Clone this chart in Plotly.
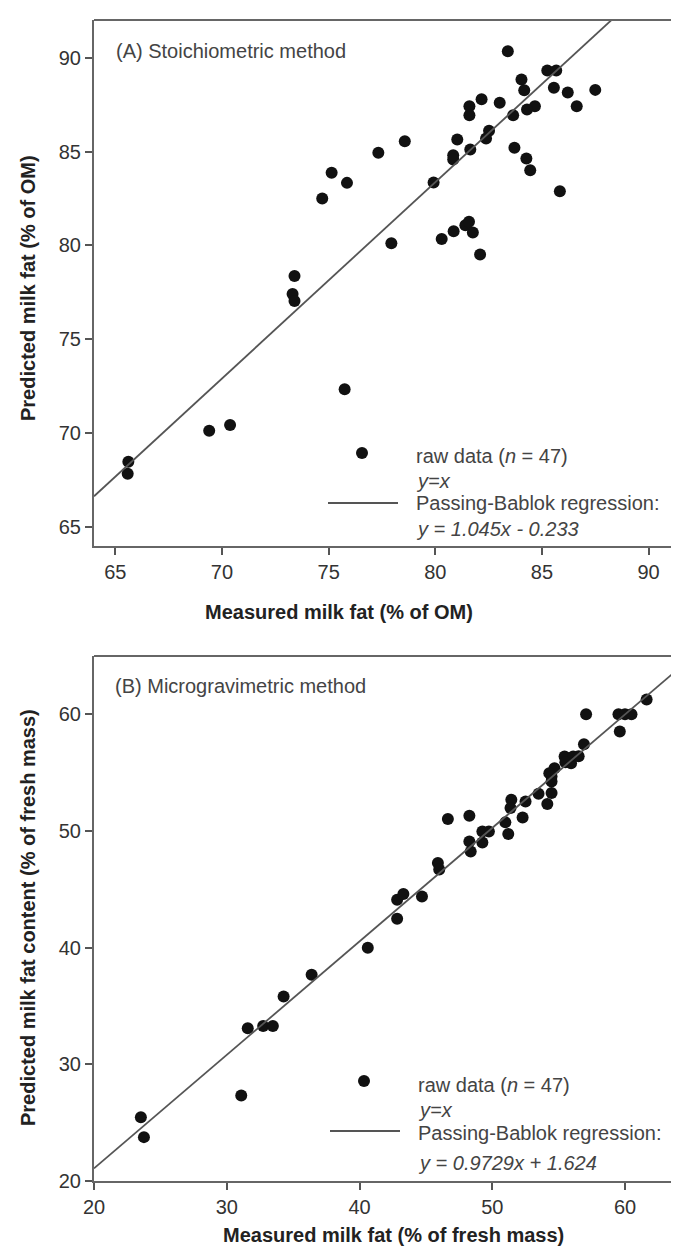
import plotly.graph_objects as go

# ---------------- data ----------------
a_measured = [83.4, 84.04, 84.17, 85.25, 85.67, 85.56, 86.21, 87.5, 86.63, 84.67,
              84.3, 83.65, 83.02, 82.17, 81.6, 81.6, 82.52, 82.38, 81.03, 81.64,
              80.84, 80.84, 83.71, 84.27, 84.45, 85.84, 79.92, 78.57, 77.33, 75.14,
              75.86, 74.7, 77.94, 80.3, 80.86, 81.41, 81.58, 81.76, 82.1, 73.4,
              73.31, 73.4, 75.75, 69.4, 70.38, 65.61, 65.58]
a_predicted = [90.34, 88.83, 88.26, 89.31, 89.31, 88.39, 88.14, 88.28, 87.41, 87.41,
               87.23, 86.93, 87.59, 87.78, 87.41, 86.93, 86.1, 85.69, 85.64, 85.11,
               84.8, 84.57, 85.2, 84.63, 84.0, 82.89, 83.35, 85.55, 84.93, 83.87,
               83.33, 82.5, 80.11, 80.34, 80.76, 81.08, 81.26, 80.69, 79.52, 78.37,
               77.41, 77.04, 72.34, 70.14, 70.44, 68.49, 67.84]

b_measured = [61.62, 59.5, 59.99, 60.48, 59.6, 57.06, 56.9, 55.44, 56.09, 55.93,
              55.5, 56.5, 54.68, 54.29, 54.46, 54.46, 54.46, 54.14, 53.48, 52.5,
              52.28, 51.43, 51.37, 50.98, 51.2, 49.74, 49.25, 49.25, 48.27, 48.27,
              48.37, 46.65, 45.9, 46.0, 42.83, 43.3, 44.7, 42.83, 40.62, 36.39,
              34.28, 31.58, 32.74, 33.47, 31.09, 23.53, 23.76]
b_predicted = [61.28, 60.0, 60.0, 60.0, 58.52, 60.0, 57.44, 56.38, 56.38, 55.8,
               55.9, 56.4, 55.38, 54.96, 54.67, 54.25, 53.25, 52.31, 53.19, 52.52,
               51.15, 52.67, 51.97, 50.74, 49.74, 49.95, 49.95, 49.01, 51.3, 49.1,
               48.24, 51.03, 47.26, 46.7, 44.1, 44.6, 44.39, 42.47, 40.0, 37.67,
               35.82, 33.09, 33.29, 33.29, 27.32, 25.47, 23.76]

a_slope, a_intercept = 1.045, -0.233
b_slope, b_intercept = 0.9729, 1.624

a_ticks = [65, 70, 75, 80, 85, 90]
b_ticks = [20, 30, 40, 50, 60]

a_range_x = [64, 91.8]
a_range_y = [64, 92]
b_range_x = [20, 64.66]
b_range_y = [20, 65]

# ---------------- layout helpers ----------------
W, H = 679, 1249
L, R, T, B = 86, 0, 12, 76
PW, PH = W - L - R, H - T - B


def px(x):
    return (x - L) / PW


def py(y):
    return (H - B - y) / PH


FONT = "Liberation Sans, Arial, sans-serif"
MARK = "#111111"
LINE = "#555555"
AXIS = "#666666"

fig = go.Figure()

# Panel A
fig.add_trace(go.Scatter(x=a_measured, y=a_predicted, mode="markers",
                         marker=dict(size=12, color=MARK), xaxis="x", yaxis="y",
                         showlegend=False, hoverinfo="x+y"))
fig.add_trace(go.Scatter(x=[a_range_x[0], a_range_x[1] + 1],
                         y=[a_slope * v + a_intercept for v in [a_range_x[0], a_range_x[1] + 1]],
                         mode="lines", line=dict(color=LINE, width=1.8),
                         xaxis="x", yaxis="y", showlegend=False))
# Panel B
fig.add_trace(go.Scatter(x=b_measured, y=b_predicted, mode="markers",
                         marker=dict(size=12, color=MARK), xaxis="x2", yaxis="y2",
                         showlegend=False, hoverinfo="x+y"))
fig.add_trace(go.Scatter(x=[b_range_x[0], b_range_x[1] + 1],
                         y=[b_slope * v + b_intercept for v in [b_range_x[0], b_range_x[1] + 1]],
                         mode="lines", line=dict(color=LINE, width=1.8),
                         xaxis="x2", yaxis="y2", showlegend=False))

a_top, a_bot = py(12), py(538)
b_top, b_bot = py(648), 0.0

axis_common = dict(ticks="outside", ticklen=7, tickwidth=1.5, tickcolor=LINE,
                   showline=True, linecolor=AXIS, linewidth=2, showgrid=False,
                   zeroline=False, mirror=False,
                   tickfont=dict(family=FONT, size=20, color="#333333"))

fig.update_layout(
    width=W, height=H,
    margin=dict(l=L, r=R, t=T, b=B),
    paper_bgcolor="white", plot_bgcolor="white",
    font=dict(family=FONT, color="#333333"),
    xaxis=dict(domain=[0, 1], anchor="y", range=a_range_x, tickvals=a_ticks, **axis_common),
    yaxis=dict(domain=[a_bot, a_top], anchor="x", range=a_range_y, tickvals=a_ticks, **axis_common),
    xaxis2=dict(domain=[0, 1], anchor="y2", range=b_range_x, tickvals=b_ticks, **axis_common),
    yaxis2=dict(domain=[b_bot, b_top], anchor="x2", range=b_range_y, tickvals=b_ticks, **axis_common),
    showlegend=False,
)

shapes = [
    dict(type="line", xref="paper", yref="paper", x0=0, x1=1, y0=a_top, y1=a_top,
         line=dict(color=AXIS, width=2)),
    dict(type="line", xref="paper", yref="paper", x0=0, x1=1, y0=b_top, y1=b_top,
         line=dict(color=AXIS, width=2)),
]

annotations = []


def text(x, y, s, size=20, color="#444444", anchor="left", angle=0):
    annotations.append(dict(x=px(x), y=py(y), xref="paper", yref="paper", text=s,
                            showarrow=False, xanchor=anchor, yanchor="middle",
                            textangle=angle, borderpad=0,
                            font=dict(family=FONT, size=size, color=color)))


def legend(mx, my, tx, rows, lx0, lx1, ly):
    shapes.append(dict(type="circle", xref="paper", yref="paper",
                       xsizemode="pixel", ysizemode="pixel",
                       xanchor=px(mx), yanchor=py(my), x0=-6, x1=6, y0=-6, y1=6,
                       fillcolor=MARK, line=dict(width=0)))
    shapes.append(dict(type="line", xref="paper", yref="paper",
                       x0=px(lx0), x1=px(lx1), y0=py(ly), y1=py(ly),
                       line=dict(color=LINE, width=1.8)))
    for (y, s) in rows:
        text(tx, y, s)


# Panel titles
text(107, 43, "(A) Stoichiometric method")
text(106, 678, "(B) Microgravimetric method")

# Legends
legend(354, 445, 407,
       [(448, "raw data (<i>n</i> = 47)"), (473, "<i>y=x</i>"),
        (495, "Passing-Bablok regression:"), (521, "<i>y = 1.045x - 0.233</i>")],
       320, 390, 495)
legend(356, 1073, 409,
       [(1077, "raw data (<i>n</i> = 47)"), (1102, "<i>y=x</i>"),
        (1125, "Passing-Bablok regression:"), (1155, "<i>y = 0.9729x + 1.624</i>")],
       322, 392, 1123)

# Axis titles
text(331, 604, "<b>Measured milk fat (% of OM)</b>", size=20, color="#222222", anchor="center")
text(20, 280, "<b>Predicted milk fat (% of OM)</b>", size=20, color="#222222", anchor="center", angle=-90)
text(385, 1227, "<b>Measured milk fat (% of fresh mass)</b>", size=20, color="#222222", anchor="center")
text(20, 910, "<b>Predicted milk fat content (% of fresh mass)</b>", size=20, color="#222222", anchor="center", angle=-90)

fig.update_layout(shapes=shapes, annotations=annotations)

fig.write_html("out.html")
